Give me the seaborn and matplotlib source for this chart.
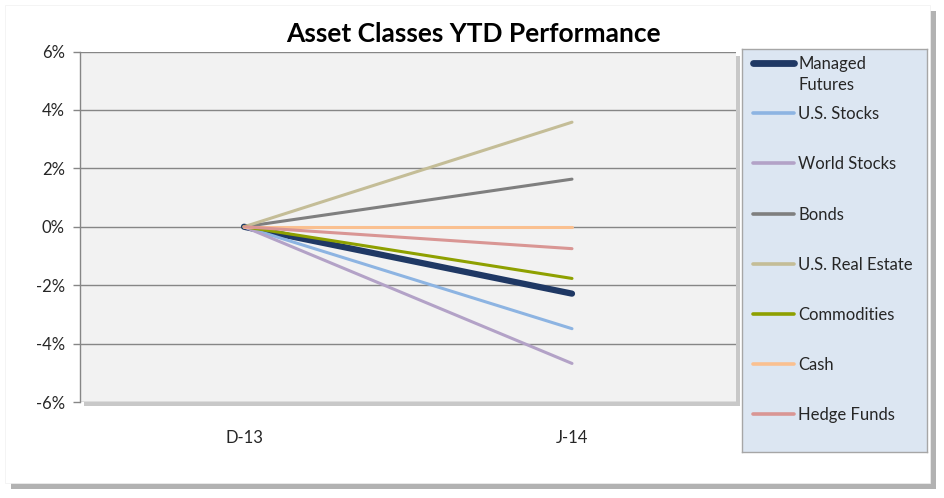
import matplotlib
matplotlib.use('Agg')
import matplotlib.pyplot as plt
import matplotlib.patheffects as pe
from matplotlib.patches import Rectangle
from matplotlib.ticker import PercentFormatter
import seaborn as sns
import pandas as pd

# data
dates = ['D-13', 'J-14']
assets = ['Managed Futures', 'U.S. Stocks', 'World Stocks', 'Bonds',
          'U.S. Real Estate', 'Commodities', 'Cash', 'Hedge Funds']
start_values = [0, 0, 0, 0, 0, 0, 0, 0]
end_values = [-0.0229, -0.0349, -0.0468, 0.0163, 0.0358, -0.0177, 0.0, -0.0075]
colors = ['#1F3864', '#8DB4E2', '#B3A2C7', '#7F7F7F',
          '#C4BD97', '#8EA000', '#FAC090', '#D99694']
legend_labels = ['Managed\nFutures', 'U.S. Stocks', 'World Stocks', 'Bonds',
                 'U.S. Real Estate', 'Commodities', 'Cash', 'Hedge Funds']

rows = []
for a, s, e in zip(assets, start_values, end_values):
    rows.append({'date': dates[0], 'asset': a, 'ret': s})
    rows.append({'date': dates[1], 'asset': a, 'ret': e})
df = pd.DataFrame(rows)

sns.set_style('white')
plt.rcParams['font.family'] = ['Lato', 'DejaVu Sans']
plt.rcParams['axes.unicode_minus'] = False

fig = plt.figure(figsize=(9.44, 4.98), dpi=100)
fig.patch.set_facecolor('white')

# chart area frame with a drop shadow
frame = Rectangle((5 / 944, 1 - 483 / 498), 925 / 944, 478 / 498,
                  transform=fig.transFigure, facecolor='white', edgecolor='#F0F0F0',
                  linewidth=0.5, zorder=-10)
frame.set_path_effects([pe.SimplePatchShadow(offset=(4, -4), alpha=0.45, shadow_rgbFace='#555555'),
                        pe.Normal()])
fig.patches.append(frame)

ax = fig.add_axes([80 / 944, 1 - 402 / 498, 656 / 944, 350.5 / 498])
ax.set_facecolor('#F2F2F2')
ax.patch.set_path_effects([pe.SimplePatchShadow(offset=(3, -3), alpha=0.3), pe.Normal()])

palette = dict(zip(assets, colors))
sizes = {a: (4.5 if a == 'Managed Futures' else 2.2) for a in assets}
sns.lineplot(data=df, x='date', y='ret', hue='asset', size='asset',
             palette=palette, sizes=sizes, hue_order=assets, size_order=assets,
             legend=False, sort=False, ax=ax, zorder=3)
for line in ax.get_lines():
    line.set_solid_capstyle('round')

ax.set_xlim(-0.5, 1.5)
ax.set_ylim(-0.06, 0.06)
ax.set_yticks([-0.06, -0.04, -0.02, 0, 0.02, 0.04, 0.06])
ax.yaxis.set_major_formatter(PercentFormatter(1, decimals=0))
ax.grid(axis='y', color='#868686', linewidth=1)
ax.set_axisbelow(True)
for side in ['top', 'right', 'bottom']:
    ax.spines[side].set_visible(False)
ax.spines['left'].set_color('#868686')
ax.spines['left'].set_linewidth(1)
ax.tick_params(axis='y', left=True, length=5, width=1, color='#868686',
               labelsize=12, pad=6)
ax.tick_params(axis='x', bottom=False, labelsize=12, pad=17)
ax.set_xlabel('')
ax.set_ylabel('')

fig.text(473 / 944, 1 - 34 / 498, 'Asset Classes YTD Performance', ha='center', va='center',
         fontsize=19, fontweight='bold', color='black')

# legend box drawn by hand
lax = fig.add_axes([742 / 944, 1 - 452 / 498, 185 / 944, 403 / 498])
lax.set_facecolor('#DCE6F2')
lax.set_xlim(0, 185)
lax.set_ylim(403, 0)
lax.set_xticks([])
lax.set_yticks([])
for sp in lax.spines.values():
    sp.set_color('#A6A6A6')
    sp.set_linewidth(1)
for i, (lab, c, a) in enumerate(zip(legend_labels, colors, assets)):
    y = 14 + i * 50.2
    lax.plot([11, 52], [y, y], color=c, linewidth=sizes[a] + 0.4, solid_capstyle='round')
    lax.text(56, y - 7, lab, ha='left', va='top', fontsize=12, linespacing=1.4)

fig.savefig('out.png', dpi=100)
